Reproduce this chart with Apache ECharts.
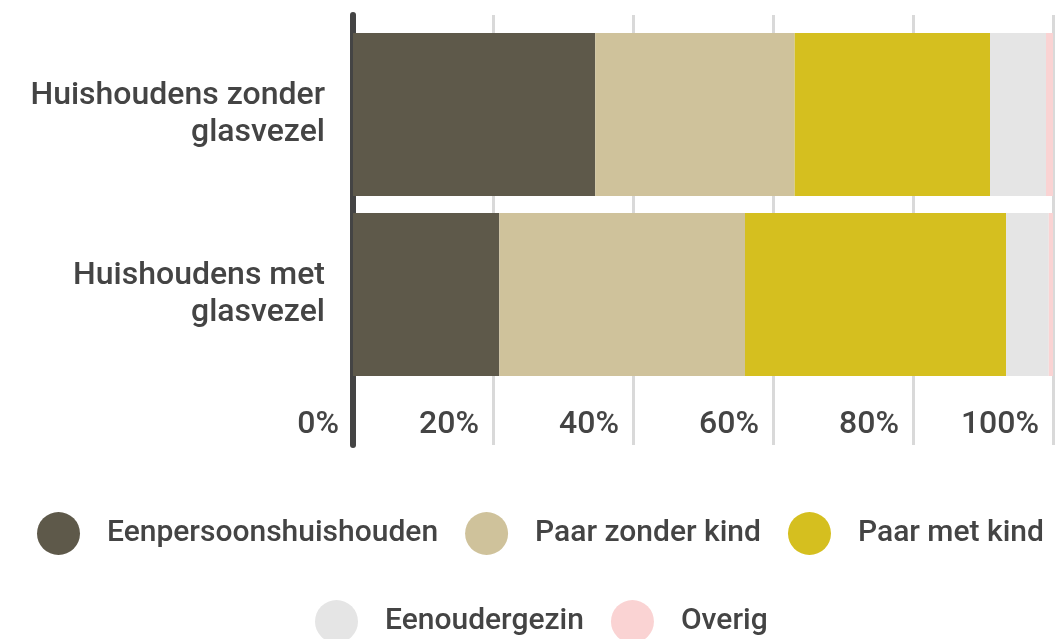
<!DOCTYPE html>
<html><head><meta charset="utf-8">
<script src="https://cdn.jsdelivr.net/npm/echarts@6/dist/echarts.min.js"></script>
<style>html,body{margin:0;padding:0;background:#fff}#c{width:1057px;height:639px}</style>
</head><body><div id="c"></div>
<script>
const categories = ['Huishoudens zonder\nglasvezel', 'Huishoudens met\nglasvezel'];
const seriesNames = ['Eenpersoonshuishouden', 'Paar zonder kind', 'Paar met kind', 'Eenoudergezin', 'Overig'];
const eenpersoons = [34.6, 20.9];
const paarZonderKind = [28.5, 35.1];
const paarMetKind = [27.9, 37.3];
const eenouder = [8.0, 6.1];
const overig = [1.0, 0.6];
const xTicks = ['0%', '20%', '40%', '60%', '80%', '100%'];
const colors = ['#5e594a', '#cfc29b', '#d5bf1f', '#e5e5e5', '#fad3d3'];

const values = [eenpersoons, paarZonderKind, paarMetKind, eenouder, overig];
const FONT = 'Roboto';
const txt = '#444444';

const chart = echarts.init(document.getElementById('c'), null, {renderer: 'canvas'});
chart.setOption({
  animation: false,
  textStyle: {fontFamily: FONT},
  grid: [
    {left: 353, right: 4, top: 24.5, height: 360},
    {left: 353, right: 4, top: 15, height: 430}
  ],
  xAxis: [
    {gridIndex: 0, type: 'value', min: 0, max: 100, show: false},
    {gridIndex: 1, type: 'value', min: 0, max: 100, interval: 20,
      axisLine: {show: false}, axisTick: {show: false},
      splitLine: {show: true, lineStyle: {color: '#d9d9d9', width: 3}},
      axisLabel: {inside: true, margin: 4, align: 'right', padding: [0, 14, 0, 0],
        color: txt, fontSize: 32, fontWeight: 500, fontFamily: FONT,
        formatter: function (v) { return xTicks[Math.round(v / 20)]; }}
    }
  ],
  yAxis: [
    {gridIndex: 0, type: 'category', data: categories, inverse: true,
      axisLine: {show: false}, axisTick: {show: false}, splitLine: {show: false},
      axisLabel: {margin: 28, color: txt, fontSize: 32, fontWeight: 500, lineHeight: 37, align: 'right', fontFamily: FONT}},
    {gridIndex: 1, type: 'value', min: 0, max: 1,
      axisLine: {show: true, lineStyle: {color: '#444444', width: 6}},
      axisTick: {show: false}, axisLabel: {show: false}, splitLine: {show: false}}
  ],
  legend: [
    {data: seriesNames.slice(0, 3), left: 32, top: 507, width: 1100, icon: 'circle', itemWidth: 43, itemHeight: 43, itemGap: 27,
      textStyle: {color: txt, fontSize: 30, fontWeight: 500, fontFamily: FONT, padding: [0, 0, 0, 22]}},
    {data: seriesNames.slice(3), left: 310, top: 595, width: 700, icon: 'circle', itemWidth: 43, itemHeight: 43, itemGap: 27,
      textStyle: {color: txt, fontSize: 30, fontWeight: 500, fontFamily: FONT, padding: [0, 0, 0, 22]}}
  ],
  series: seriesNames.map(function (n, i) {
    return {name: n, type: 'bar', stack: 'total', xAxisIndex: 0, yAxisIndex: 0,
      data: values[i], barCategoryGap: '9.5%', itemStyle: {color: colors[i]}, z: 3};
  })
});
</script></body></html>
